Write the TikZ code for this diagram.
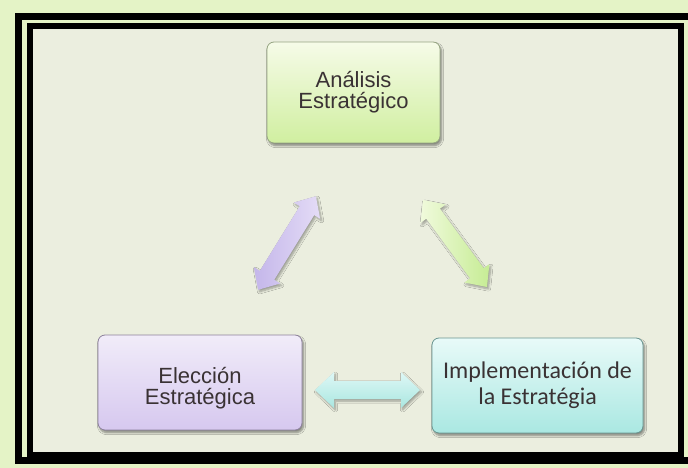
\documentclass[tikz,border=0pt]{standalone}
\usepackage{fontspec}
\setmainfont{Liberation Sans}
\newfontfamily\calib{Carlito}
\usetikzlibrary{shadows.blur}
\definecolor{outerbg}{HTML}{E4F3C6}
\definecolor{innerbg}{HTML}{EBEEDF}
\definecolor{txt}{HTML}{3A3234}
\definecolor{gA1}{HTML}{F6FBE8}
\definecolor{gA2}{HTML}{D0EFA0}
\definecolor{gAb}{RGB}{150,165,130}
\definecolor{pE1}{HTML}{F1ECF9}
\definecolor{pE2}{HTML}{D6C8EF}
\definecolor{pEb}{RGB}{140,128,155}
\definecolor{cI1}{HTML}{E8FAF8}
\definecolor{cI2}{HTML}{AAE8E2}
\definecolor{cIb}{RGB}{105,150,145}
\definecolor{pa1}{RGB}{228,220,246}
\definecolor{pa2}{RGB}{196,182,234}
\definecolor{ga1}{RGB}{240,250,220}
\definecolor{ga2}{RGB}{198,236,148}
\definecolor{ca1}{RGB}{222,248,246}
\definecolor{ca2}{RGB}{170,230,224}
\tikzset{
  boxbase/.style={rounded corners=7pt, line width=0.8pt,
    blur shadow={shadow xshift=1.5pt, shadow yshift=-2.5pt, shadow blur steps=6, shadow opacity=45}},
  boxtext/.style={text=txt, font=\fontsize{22}{21}\selectfont, align=center},
  arrowshade/.style={blur shadow={shadow xshift=1.5pt, shadow yshift=-2pt, shadow blur steps=6, shadow opacity=35}}
}
% mid, angle, length, head half-width, shaft half-width, head length, shading
\newcommand\dblarr[7]{%
  \begin{scope}[shift={#1}, rotate=#2]
    \path[arrowshade, #7]
      (-#3/2,0) -- (-#3/2+#6,#4) -- (-#3/2+#6,#5) -- (#3/2-#6,#5) -- (#3/2-#6,#4)
      -- (#3/2,0) -- (#3/2-#6,-#4) -- (#3/2-#6,-#5) -- (-#3/2+#6,-#5) -- (-#3/2+#6,-#4) -- cycle;
  \end{scope}}
\begin{document}
\begin{tikzpicture}[x=1pt,y=-1pt]
\useasboundingbox (0,0) rectangle (688,468);
\clip (0,0) rectangle (688,468);
\fill[outerbg] (0,0) rectangle (688,468);
\fill[innerbg] (30,26.5) rectangle (681,455);
\draw[black, line width=7pt] (18.5,16.5) rectangle (700,460);
\draw[black, line width=6pt] (30,26.5) rectangle (681,455);

% boxes
\path[boxbase, top color=gA1, bottom color=gA2, draw=gAb]
  (267,42) rectangle (440,143);
\node[boxtext] (ana) at (353.5,92) {Análisis\\Estratégico};

\path[boxbase, top color=pE1, bottom color=pE2, draw=pEb]
  (98,335) rectangle (302,430);
\node[boxtext] (ele) at (200,388) {Elección\\Estratégica};

\path[boxbase, top color=cI1, bottom color=cI2, draw=cIb]
  (432,338) rectangle (643,433);
\node[boxtext, font=\calib\fontsize{24}{26}\selectfont] (imp) at (537.5,385) {Implementación de\\la Estratégia};

% arrows
\dblarr{(287,243)}{58.3}{110}{15.5}{8.5}{17}{left color=pa2, right color=pa1}
\dblarr{(455,243.5)}{-53.7}{108}{15.5}{8.5}{17}{left color=ga1, right color=ga2}
\dblarr{(367.5,390)}{0}{105}{18}{9}{19}{top color=ca1, bottom color=ca2}
\end{tikzpicture}
\end{document}
